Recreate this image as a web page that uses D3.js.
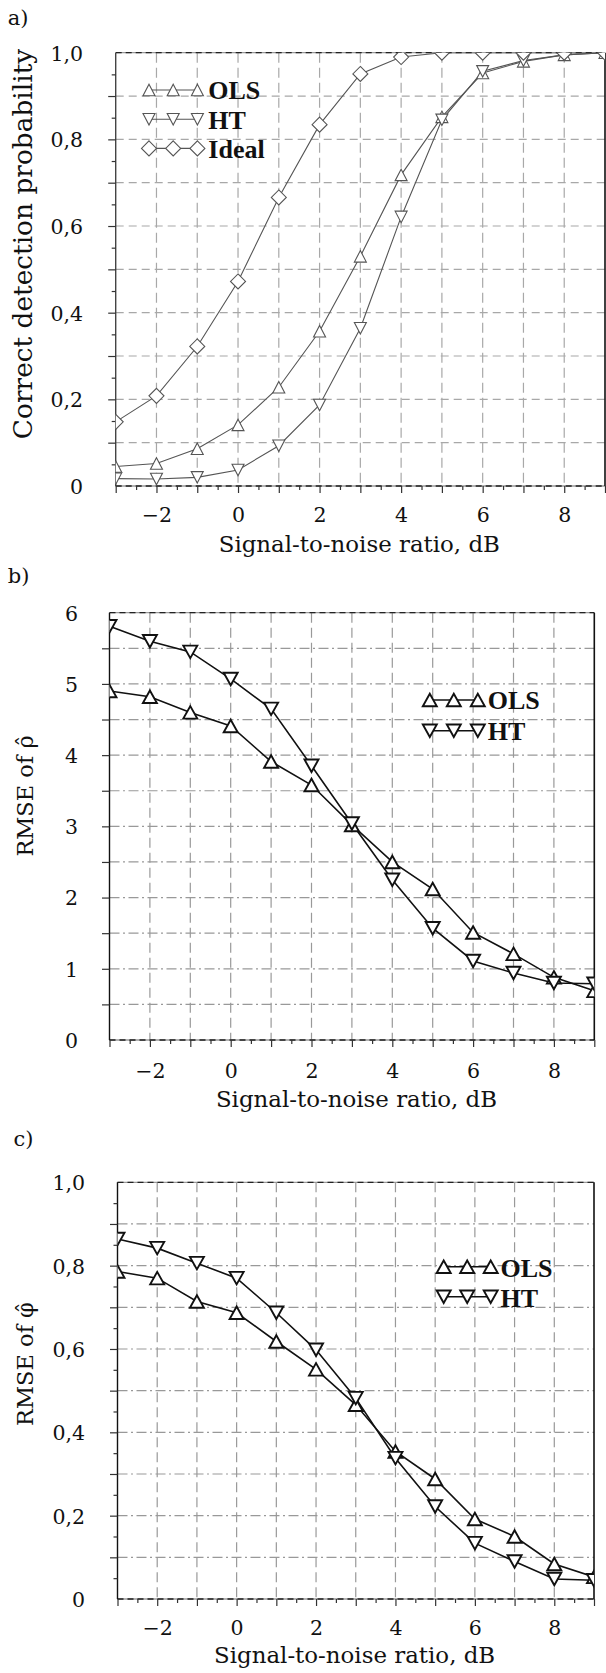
<!DOCTYPE html>
<html lang="en">
<head>
<meta charset="utf-8">
<title>Detection probability and RMSE vs SNR</title>
<script src="https://cdn.jsdelivr.net/npm/d3@7"></script>
<style>
  body { margin: 0; background: #fff; }
  svg { display: block; font-family: "DejaVu Serif", serif; }
</style>
</head>
<body>
<script>
var W = 606, H = 1673;

// values
var snr = [-3, -2, -1, 0, 1, 2, 3, 4, 5, 6, 7, 8, 9];
var snrTicks = [-2, 0, 2, 4, 6, 8];

var probOLS   = [0.045, 0.052, 0.086, 0.141, 0.228, 0.357, 0.530, 0.718, 0.852, 0.953, 0.980, 0.995, 1.0];
var probHT    = [0.017, 0.016, 0.020, 0.037, 0.093, 0.187, 0.364, 0.621, 0.845, 0.957, 0.982, 0.995, 1.0];
var probIdeal = [0.148, 0.208, 0.322, 0.472, 0.666, 0.834, 0.951, 0.990, 1.0, 1.0, 1.0, 1.0, 1.0];
var probTicks = [0, 0.2, 0.4, 0.6, 0.8, 1.0];

var rhoOLS = [4.90, 4.82, 4.60, 4.41, 3.91, 3.58, 3.02, 2.50, 2.12, 1.51, 1.21, 0.88, 0.69];
var rhoHT  = [5.81, 5.60, 5.45, 5.07, 4.65, 3.85, 3.04, 2.25, 1.57, 1.11, 0.94, 0.80, 0.79];
var rhoTicks = [0, 1, 2, 3, 4, 5, 6];

var phiOLS = [0.786, 0.770, 0.714, 0.687, 0.618, 0.551, 0.466, 0.354, 0.288, 0.192, 0.150, 0.084, 0.053];
var phiHT  = [0.864, 0.842, 0.806, 0.770, 0.687, 0.598, 0.482, 0.338, 0.222, 0.134, 0.090, 0.048, 0.045];
var phiTicks = [0, 0.2, 0.4, 0.6, 0.8, 1.0];

// marker shapes (fixed pixel size, size argument ignored)
function triShape(w, h, down) {
  return { draw: function(ctx) {
    var s = down ? -1 : 1;
    ctx.moveTo(0, -s * h / 2);
    ctx.lineTo(w / 2, s * h / 2);
    ctx.lineTo(-w / 2, s * h / 2);
    ctx.closePath();
  }};
}
function diamondShape(w, h) {
  return { draw: function(ctx) {
    ctx.moveTo(0, -h / 2);
    ctx.lineTo(w / 2, 0);
    ctx.lineTo(0, h / 2);
    ctx.lineTo(-w / 2, 0);
    ctx.closePath();
  }};
}

var commaFmt = function(d) { return d === 0 ? "0" : d.toFixed(1).replace(".", ","); };

var panels = [
  { tag: "a)", tagX: 7.7, tagY: 25,
    left: 115.7, right: 605, top: 52.7, bottom: 486, yMax: 1,
    gridY: d3.range(1, 10).map(function(i) { return i / 10; }),
    minorY: d3.range(0, 10).map(function(i) { return i / 10 + 0.05; }),
    yTicks: probTicks, fmt: commaFmt, labelPad: 32.7, xPad: 14.1,
    hDash: "8,5", gridColor: "#a8a8a8",
    lineColor: "#555", lineWidth: 1.1, markWidth: 1.1, leftColor: "#444",
    series: [
      { name: "OLS", values: probOLS, shape: triShape(12, 11.5, false) },
      { name: "HT", values: probHT, shape: triShape(12, 11.5, true) },
      { name: "Ideal", values: probIdeal, shape: diamondShape(15, 15) }
    ],
    legend: { x0: 149, dx: 24.2, y0: 90, dy: 29.2, tx: 208.3, base: 9.3 },
    yTitle: "Correct detection probability", yTitleX: 32.3, yTitleY: 244, yTitleSize: 26.4,
    xTitleX: 359.3, xTitleY: 551.7 },
  { tag: "b)", tagX: 7.7, tagY: 583,
    left: 109.5, right: 594.3, top: 612.7, bottom: 1040, yMax: 6,
    gridY: d3.range(1, 12).map(function(i) { return i / 2; }),
    minorY: [],
    yTicks: rhoTicks, fmt: d3.format("d"), labelPad: 31.5, xPad: 16.7,
    hDash: "10,3.5,2,3.5", gridColor: "#999",
    lineColor: "#111", lineWidth: 1.6, markWidth: 1.9, leftColor: "#111",
    series: [
      { name: "OLS", values: rhoOLS, shape: triShape(14, 12.5, false) },
      { name: "HT", values: rhoHT, shape: triShape(14, 12.5, true) }
    ],
    legend: { x0: 429.8, dx: 24, y0: 700, dy: 30.7, tx: 487.7, base: 9 },
    yTitle: "RMSE of \u03C1\u0302", yTitleX: 33.3, yTitleY: 796, yTitleSize: 22.5,
    xTitleX: 356.5, xTitleY: 1106.7 },
  { tag: "c)", tagX: 13.5, tagY: 1146,
    left: 117.5, right: 594, top: 1182.3, bottom: 1599, yMax: 1,
    gridY: d3.range(1, 10).map(function(i) { return i / 10; }),
    minorY: d3.range(0, 10).map(function(i) { return i / 10 + 0.05; }),
    yTicks: phiTicks, fmt: commaFmt, labelPad: 32.5, xPad: 14.4,
    hDash: "10,3.5,2,3.5", gridColor: "#999",
    lineColor: "#111", lineWidth: 1.6, markWidth: 1.9, leftColor: "#111",
    series: [
      { name: "OLS", values: phiOLS, shape: triShape(14, 12.5, false) },
      { name: "HT", values: phiHT, shape: triShape(14, 12.5, true) }
    ],
    legend: { x0: 443.7, dx: 23.5, y0: 1266.7, dy: 30, tx: 500.5, base: 10 },
    yTitle: "RMSE of \u03C6\u0302", yTitleX: 33, yTitleY: 1364, yTitleSize: 22.5,
    xTitleX: 354.6, xTitleY: 1663.3 }
];

var svg = d3.select("body").append("svg")
  .attr("width", W)
  .attr("height", H);

function styleAxis(g) {
  g.select(".domain").remove();
  g.selectAll(".tick line").attr("stroke", "#333").attr("stroke-width", 1.2);
  g.selectAll(".tick text")
    .attr("font-family", "DejaVu Serif, serif")
    .attr("font-size", "20.5px")
    .attr("fill", "#111");
}

panels.forEach(function(p, pi) {
  var x = d3.scaleLinear().domain([-3, 9]).range([p.left, p.right]);
  var y = d3.scaleLinear().domain([0, p.yMax]).range([p.bottom, p.top]);
  var g = svg.append("g");

  var clipId = "clip" + pi;
  svg.append("clipPath").attr("id", clipId)
    .append("rect")
    .attr("x", p.left).attr("y", p.top)
    .attr("width", p.right - p.left).attr("height", p.bottom - p.top);

  // grid
  g.selectAll(".hgrid").data(p.gridY).enter().append("line")
    .attr("x1", p.left).attr("x2", p.right)
    .attr("y1", function(d) { return y(d); }).attr("y2", function(d) { return y(d); })
    .attr("stroke", p.gridColor).attr("stroke-width", 1.2)
    .attr("stroke-dasharray", p.hDash);
  g.selectAll(".vgrid").data(d3.range(-2, 9)).enter().append("line")
    .attr("x1", function(d) { return x(d); }).attr("x2", function(d) { return x(d); })
    .attr("y1", p.top).attr("y2", p.bottom)
    .attr("stroke", p.gridColor).attr("stroke-width", 1.2)
    .attr("stroke-dasharray", "10,5");

  // top and bottom frame: grey line with dark dashes over it
  [p.top, p.bottom].forEach(function(yy) {
    g.append("line").attr("x1", p.left).attr("x2", p.right).attr("y1", yy).attr("y2", yy)
      .attr("stroke", "#9a9a9a").attr("stroke-width", 1.3);
    g.append("line").attr("x1", p.left).attr("x2", p.right).attr("y1", yy).attr("y2", yy)
      .attr("stroke", "#222").attr("stroke-width", 1.3).attr("stroke-dasharray", "6,4");
  });
  g.append("line").attr("x1", p.left).attr("x2", p.left).attr("y1", p.top).attr("y2", p.bottom)
    .attr("stroke", p.leftColor).attr("stroke-width", 1.4);
  g.append("line").attr("x1", p.right).attr("x2", p.right).attr("y1", p.top).attr("y2", p.bottom)
    .attr("stroke", "#111").attr("stroke-width", 1.6);

  // bottom axis: major ticks with labels, minor ticks
  var xMajor = g.append("g").attr("transform", "translate(0," + p.bottom + ")")
    .call(d3.axisBottom(x).tickValues(snr).tickSize(7).tickPadding(p.xPad)
      .tickFormat(function(d) { return snrTicks.indexOf(d) >= 0 ? d3.format("d")(d) : ""; }));
  styleAxis(xMajor);
  var xMinor = g.append("g").attr("transform", "translate(0," + p.bottom + ")")
    .call(d3.axisBottom(x).tickValues(d3.range(-2.5, 9, 1)).tickSize(4).tickFormat(""));
  styleAxis(xMinor);

  // left axis: labels, grid stubs, minor ticks
  var yLab = g.append("g").attr("transform", "translate(" + p.left + ",0)")
    .call(d3.axisLeft(y).tickValues(p.yTicks).tickSize(0).tickPadding(p.labelPad).tickFormat(p.fmt));
  styleAxis(yLab);
  yLab.selectAll(".tick text").attr("dy", "0.36em");
  var yStub = g.append("g").attr("transform", "translate(" + p.left + ",0)")
    .call(d3.axisLeft(y).tickValues(p.gridY).tickSize(7.5).tickFormat(""));
  styleAxis(yStub);
  var yMin = g.append("g").attr("transform", "translate(" + p.left + ",0)")
    .call(d3.axisLeft(y).tickValues(p.minorY).tickSize(4).tickFormat(""));
  styleAxis(yMin);

  // series
  var plot = g.append("g").attr("clip-path", "url(#" + clipId + ")");
  var line = d3.line()
    .x(function(d, i) { return x(snr[i]); })
    .y(function(d) { return y(d); });
  p.series.forEach(function(s) {
    plot.append("path").datum(s.values)
      .attr("d", line).attr("fill", "none")
      .attr("stroke", p.lineColor).attr("stroke-width", p.lineWidth);
  });
  p.series.forEach(function(s) {
    plot.selectAll(null).data(s.values).enter().append("path")
      .attr("d", d3.symbol().type(s.shape))
      .attr("transform", function(d, i) { return "translate(" + x(snr[i]) + "," + y(d) + ")"; })
      .attr("fill", "#fff").attr("stroke", p.lineColor).attr("stroke-width", p.markWidth);
  });

  // legend
  var L = p.legend;
  p.series.forEach(function(s, k) {
    var yy = L.y0 + k * L.dy;
    var lg = g.append("g");
    lg.append("line").attr("x1", L.x0).attr("x2", L.x0 + 2 * L.dx).attr("y1", yy).attr("y2", yy)
      .attr("stroke", p.lineColor).attr("stroke-width", p.lineWidth);
    lg.selectAll(null).data([0, 1, 2]).enter().append("path")
      .attr("d", d3.symbol().type(s.shape))
      .attr("transform", function(j) { return "translate(" + (L.x0 + j * L.dx) + "," + yy + ")"; })
      .attr("fill", "#fff").attr("stroke", p.lineColor).attr("stroke-width", p.markWidth);
    lg.append("text").attr("x", L.tx).attr("y", yy + L.base)
      .attr("font-family", "Liberation Serif, serif").attr("font-weight", "bold")
      .attr("font-size", "26px").attr("fill", "#111")
      .text(s.name);
  });

  // titles
  svg.append("text").attr("x", p.tagX).attr("y", p.tagY)
    .attr("font-size", "21px").attr("fill", "#111").text(p.tag);
  svg.append("text")
    .attr("transform", "translate(" + p.yTitleX + "," + p.yTitleY + ") rotate(-90)")
    .attr("text-anchor", "middle").attr("font-size", p.yTitleSize + "px").attr("fill", "#111")
    .text(p.yTitle);
  svg.append("text").attr("x", p.xTitleX).attr("y", p.xTitleY)
    .attr("text-anchor", "middle").attr("font-size", "22.9px").attr("fill", "#111")
    .text("Signal-to-noise ratio, dB");
});
</script>
</body>
</html>
